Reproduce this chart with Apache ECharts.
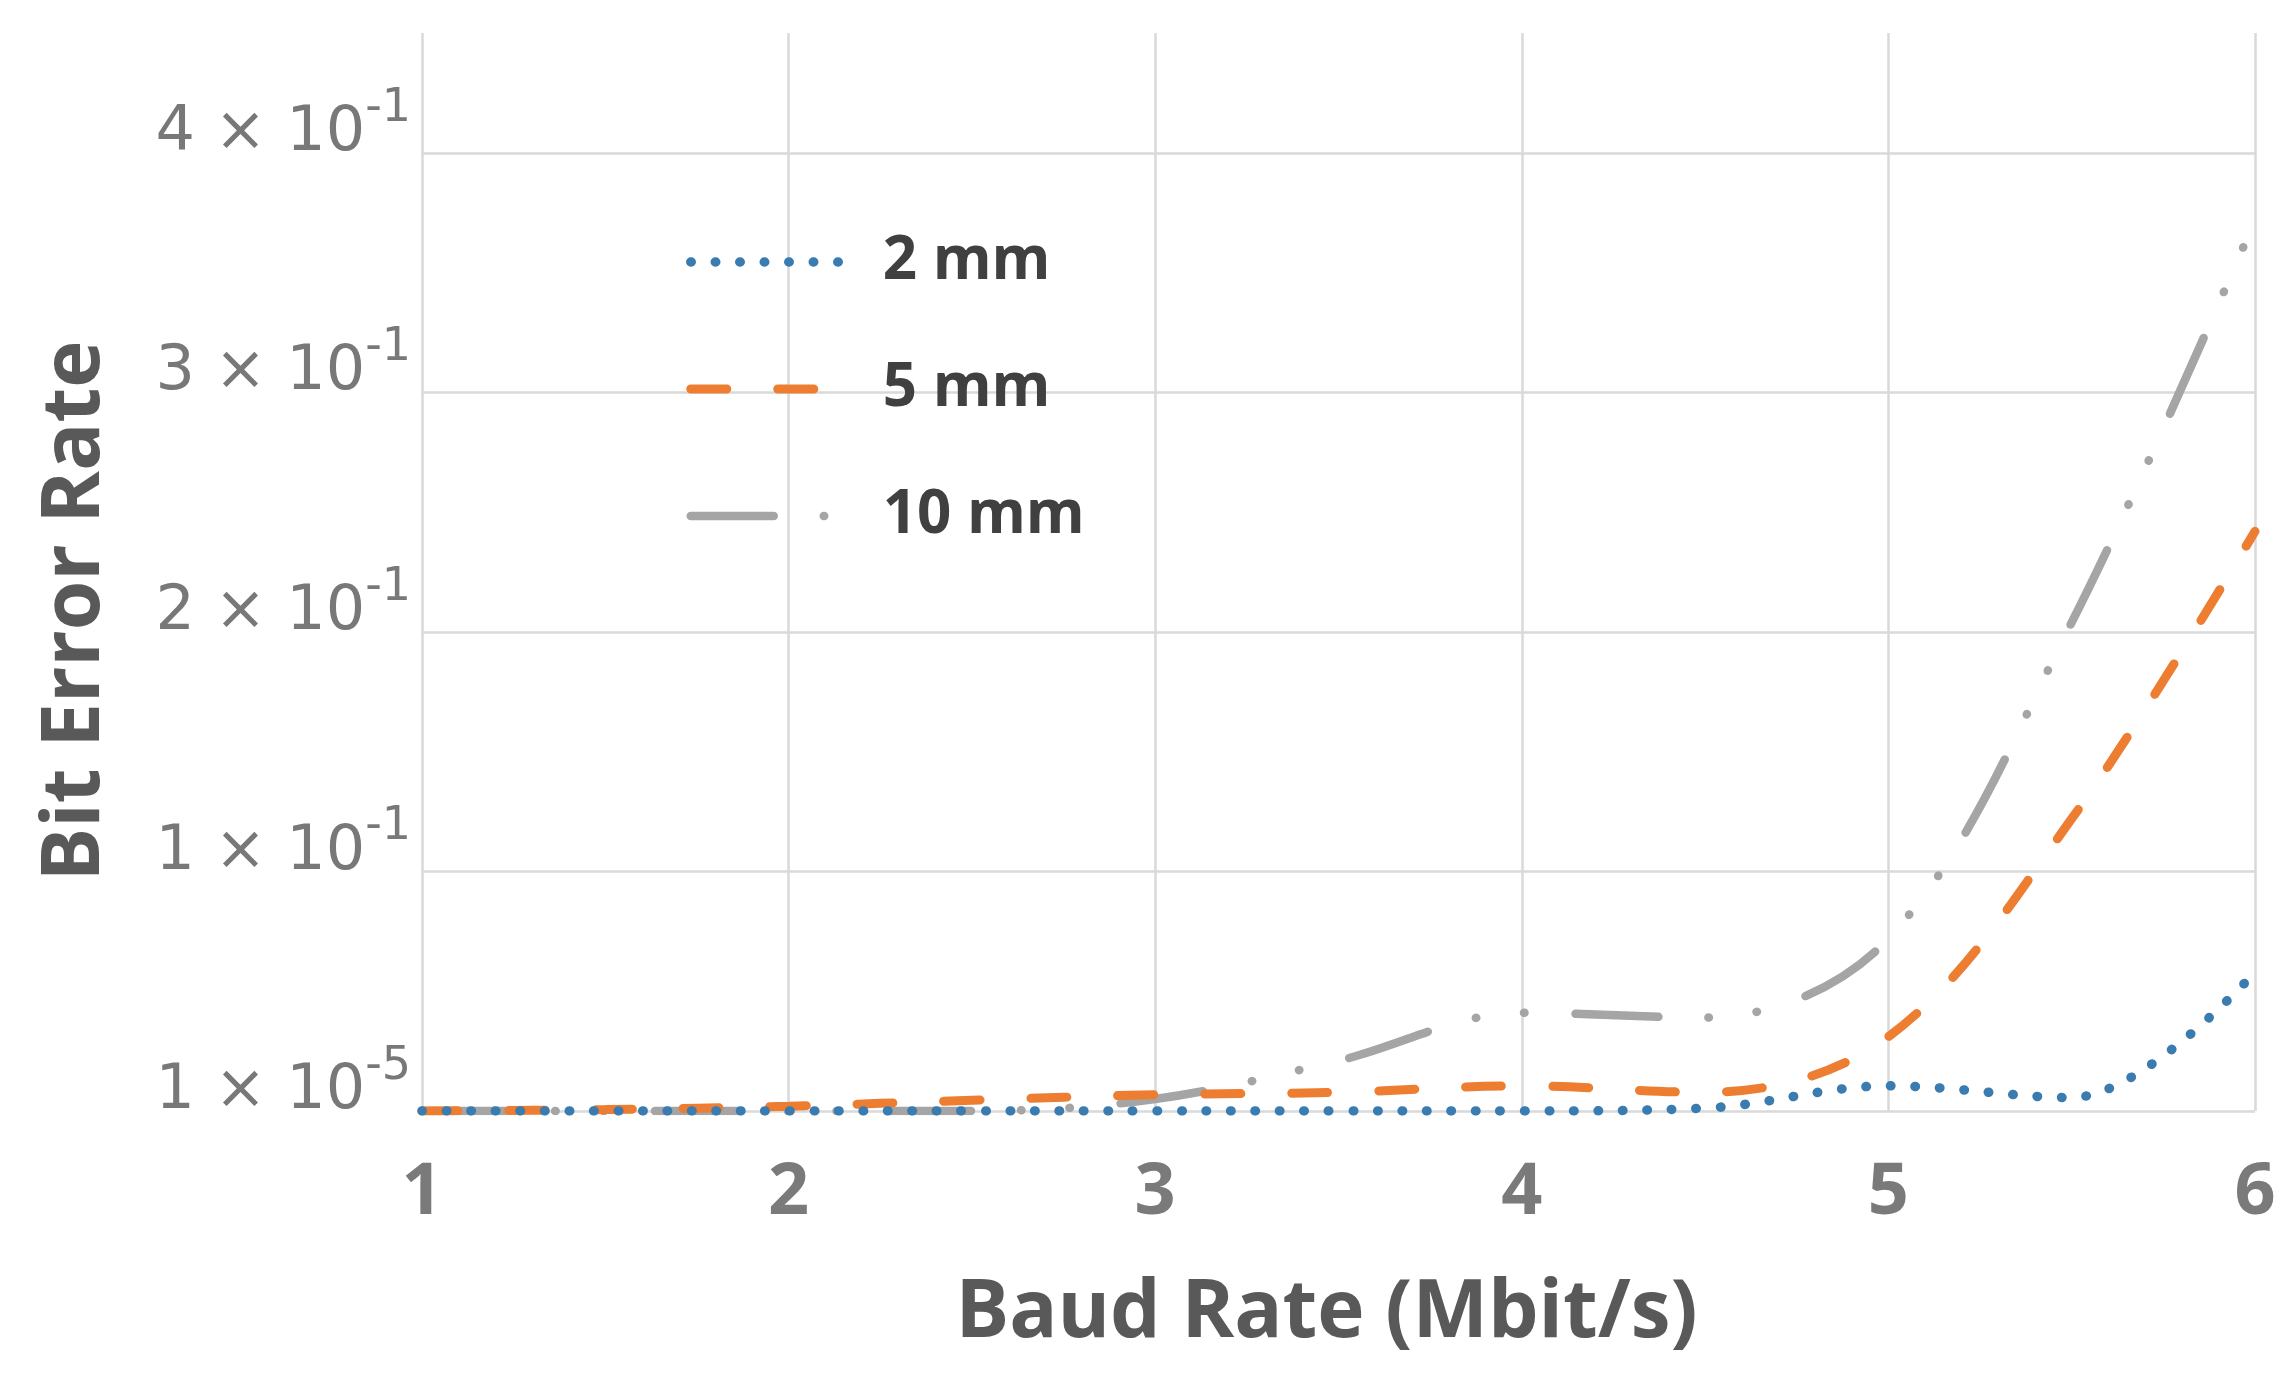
<!DOCTYPE html>
<html>
<head>
<meta charset="utf-8">
<script src="https://cdn.jsdelivr.net/npm/echarts@6/dist/echarts.min.js"></script>
<style>
  html, body { margin: 0; padding: 0; background: #ffffff; }
  #chart { width: 2281px; height: 1379px; }
</style>
</head>
<body>
<div id="chart"></div>
<script>
// ---- data ----
const baudRates = [1, 1.5, 2, 2.5, 3, 3.5, 4, 4.5, 5, 5.5, 6];
const ber2mm  = [0.00001, 0.00001, 0.00001, 0.00001, 0.00001, 0.00001, 0.00001, 0.0012, 0.0105, 0.0056, 0.058];
const ber5mm  = [0.00001, 0.0006, 0.002, 0.0045, 0.0068, 0.0078, 0.0105, 0.0078, 0.031, 0.122, 0.242];
const ber10mm = [0.00001, 0.00001, 0.00001, 0.00001, 0.005, 0.021, 0.041, 0.039, 0.072, 0.204, 0.372];
const seriesNames = ['2 mm', '5 mm', '10 mm'];
const yTickMantissa = ['1 × 10', '1 × 10', '2 × 10', '3 × 10', '4 × 10'];
const yTickExponent = ['-5', '-1', '-1', '-1', '-1'];
const xAxisTitle = 'Baud Rate (Mbit/s)';
const yAxisTitle = 'Bit Error Rate';

const colBlue = '#3a7bb0', colOrange = '#ed7d31', colGray = '#a5a5a5';
const dashBlue = [0.5, 24];
const dashOrange = [36, 51];
const dashGray = [83, 50, 0.5, 48, 0.5, 51];
const hiddenSymbol = { color: 'rgba(0,0,0,0)', borderWidth: 0, opacity: 0 };

function pairs(ys) { return baudRates.map((x, i) => [x, ys[i]]); }

const chart = echarts.init(document.getElementById('chart'), null, { renderer: 'canvas' });
chart.setOption({
  backgroundColor: '#ffffff',
  animation: false,
  grid: { left: 422, right: 26, top: 33, bottom: 268, containLabel: false },
  legend: {
    orient: 'vertical',
    left: 681, top: 222,
    itemWidth: 160, itemHeight: 14, itemGap: 57,
    selectedMode: false,
    textStyle: { fontFamily: 'Open Sans', fontWeight: 'bold', fontSize: 60, color: '#404040', lineHeight: 70, padding: [0, 0, 0, 27] },
    data: [
      { name: seriesNames[0], itemStyle: hiddenSymbol, lineStyle: { width: 9.5, type: dashBlue, cap: 'round', color: colBlue } },
      { name: seriesNames[1], itemStyle: hiddenSymbol, lineStyle: { width: 9, type: dashOrange, cap: 'round', color: colOrange } },
      { name: seriesNames[2], itemStyle: hiddenSymbol, lineStyle: { width: 8.5, type: dashGray, cap: 'round', color: colGray } }
    ]
  },
  xAxis: {
    type: 'value', min: 1, max: 6, interval: 1,
    name: xAxisTitle, nameLocation: 'middle', nameGap: 155,
    nameTextStyle: { fontFamily: 'Open Sans', fontWeight: 'bold', fontSize: 80, color: '#595959', lineHeight: 96, padding: [0, 24, 0, 0] },
    axisLine: { show: false }, axisTick: { show: false },
    axisLabel: { fontFamily: 'Open Sans', fontWeight: 'bold', fontSize: 72, color: '#7a7a7a', margin: 39, lineHeight: 86 },
    splitLine: { show: true, lineStyle: { color: '#d9d9d9', width: 2.5 } }
  },
  yAxis: {
    type: 'value', min: 0, max: 0.45, interval: 0.1,
    name: yAxisTitle, nameLocation: 'middle', nameGap: 298,
    nameTextStyle: { fontFamily: 'Open Sans', fontWeight: 'bold', fontSize: 80, color: '#595959', lineHeight: 96, padding: [0, 78, 0, 0] },
    axisLine: { show: false }, axisTick: { show: false },
    axisLabel: {
      margin: 11, showMaxLabel: false, verticalAlign: 'middle',
      formatter: function (v) {
        const i = Math.round(v * 10);
        if (i < 0 || i >= yTickMantissa.length) return '';
        return '{m|' + yTickMantissa[i] + '}{s|' + yTickExponent[i] + '}';
      },
      rich: {
        m: { fontFamily: 'DejaVu Sans', fontSize: 62, color: '#787878', verticalAlign: 'middle', padding: [0, 0, 38, 0] },
        s: { fontFamily: 'DejaVu Sans', fontSize: 46, color: '#787878', verticalAlign: 'middle', padding: [0, 0, 88, 0] }
      }
    },
    splitLine: { show: true, showMaxLine: false, lineStyle: { color: '#d9d9d9', width: 2.5 } }
  },
  series: [
    { name: seriesNames[0], type: 'line', data: pairs(ber2mm), smooth: 0.35, symbol: 'none', z: 4,
      lineStyle: { color: colBlue, width: 9.5, type: dashBlue, cap: 'round' }, itemStyle: { color: colBlue } },
    { name: seriesNames[1], type: 'line', data: pairs(ber5mm), smooth: 0.35, symbol: 'none', z: 3,
      lineStyle: { color: colOrange, width: 9, type: dashOrange, cap: 'round' }, itemStyle: { color: colOrange } },
    { name: seriesNames[2], type: 'line', data: pairs(ber10mm), smooth: 0.35, symbol: 'none', z: 2,
      lineStyle: { color: colGray, width: 8.5, type: dashGray, cap: 'round' }, itemStyle: { color: colGray } }
  ]
});
</script>
</body>
</html>
